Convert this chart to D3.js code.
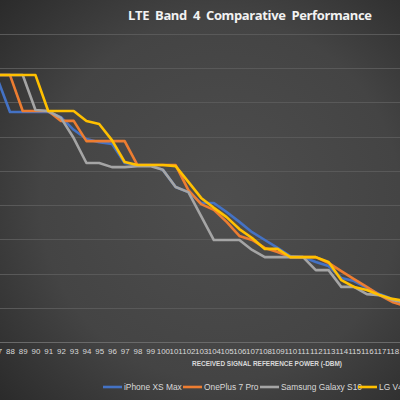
<!DOCTYPE html>
<html><head><meta charset="utf-8">
<script src="https://cdn.jsdelivr.net/npm/d3@7"></script>
<style>html,body{margin:0;padding:0;background:#3a3a3a;}svg{display:block;}</style>
</head><body>
<script>
const categories = ["87","88","89","90","91","92","93","94","95","96","97","98","99","100","101","102","103","104","105","106","107","108","109","110","111","112","113","114","115","116","117","118","119"];
const iphone  = [77.1,67.2,67.2,67.2,67.2,65.7,62.0,59.3,58.4,57.9,52.3,51.7,51.7,50.3,45.3,43.8,40.6,40.6,38.0,35.1,32.1,29.8,27.5,25.1,24.8,23.4,22.2,18.7,17.8,15.8,14.0,12.6,11.5];
const oneplus = [78.0,78.0,67.5,67.5,67.5,64.6,64.6,58.7,58.7,58.7,58.7,51.7,51.7,51.7,51.7,44.4,40.3,38.6,35.1,31.0,29.8,27.5,26.3,24.8,24.8,24.8,23.1,20.7,18.4,16.1,13.7,11.7,10.5];
const samsung = [78.0,78.0,78.0,67.8,67.5,65.5,59.6,52.3,52.3,51.1,51.1,51.4,51.4,50.3,45.3,43.8,36.8,29.8,29.8,29.8,26.9,24.8,24.8,24.8,24.8,21.0,21.0,16.1,16.1,14.0,13.7,12.3,11.5];
const lg      = [78.0,78.0,78.0,78.0,67.5,67.5,67.5,64.6,63.7,59.0,52.6,51.7,51.7,51.7,51.4,46.8,42.1,39.2,36.5,33.0,30.4,27.2,27.2,24.8,24.8,24.8,23.4,18.1,16.1,15.2,13.7,12.6,12.0];
const seriesNames = ["iPhone XS Max","OnePlus 7 Pro","Samsung Galaxy S10","LG V40"];
const seriesColors = ["#4472c4","#ed7d31","#a5a5a5","#ffc000"];
const yTicks = [0,10,20,30,40,50,60,70,80,90];
const title = "LTE  Band  4  Comparative  Performance";
const xTitle = "RECEIVED SIGNAL REFERENCE POWER (-DBM)";

const W = 400, H = 400;
const svg = d3.select("body").append("svg").attr("width", W).attr("height", H);
const defs = svg.append("defs");
const rg = defs.append("radialGradient").attr("id","bg").attr("cx","55%").attr("cy","50%").attr("r","75%");
rg.append("stop").attr("offset","0%").attr("stop-color","#4e4e4e");
rg.append("stop").attr("offset","60%").attr("stop-color","#444444");
rg.append("stop").attr("offset","100%").attr("stop-color","#2a2a2a");
svg.append("rect").attr("width",W).attr("height",H).attr("fill","url(#bg)");

const x = d3.scalePoint().domain(categories).range([-2.75, 405]);
const y = d3.scaleLinear().domain([0, 90]).range([342, 34]);

// gridlines
svg.append("g").selectAll("line").data(yTicks).join("line")
  .attr("x1", 0).attr("x2", W)
  .attr("y1", d => Math.round(y(d)) + 0.5).attr("y2", d => Math.round(y(d)) + 0.5)
  .attr("stroke", d => d === 0 ? "#6a6a6a" : "#595959").attr("stroke-width", 1);

// x axis
const xAxis = d3.axisBottom(x).tickSize(0).tickPadding(6);
const gx = svg.append("g").attr("transform", `translate(0,${y(0)})`).call(xAxis);
gx.select(".domain").remove();
gx.selectAll("text").attr("fill", "#d9d9d9").style("font-family", "'Liberation Sans', Arial, sans-serif").style("font-size", "7.9px");

// lines
const allSeries = [iphone, oneplus, samsung, lg];
const line = d3.line().x((d, i) => x(categories[i])).y(d => y(d));
svg.append("g").selectAll("path").data(allSeries).join("path")
  .attr("d", d => line(d))
  .attr("fill", "none")
  .attr("stroke", (d, i) => seriesColors[i])
  .attr("stroke-width", 2.6)
  .attr("stroke-linejoin", "round");

// title
svg.append("text").attr("x", 128).attr("y", 20)
  .attr("textLength", 244).attr("lengthAdjust", "spacing")
  .style("white-space", "pre")
  .attr("fill", "#f2f2f2").style("font-family", "'Open Sans', sans-serif")
  .style("font-size", "13px").style("font-weight", "bold").text(title);

// axis title
svg.append("text").attr("x", 192).attr("y", 366)
  .attr("textLength", 150).attr("lengthAdjust", "spacingAndGlyphs")
  .attr("fill", "#d9d9d9").style("font-family", "'Liberation Sans', Arial, sans-serif")
  .style("font-size", "8px").style("font-weight", "bold").text(xTitle);

// legend
const legendX = [103, 183, 260, 358];
const lgG = svg.append("g").selectAll("g").data(seriesNames).join("g")
  .attr("transform", (d, i) => `translate(${legendX[i]},387)`);
lgG.append("line").attr("x1", 0).attr("x2", 19).attr("y1", 0).attr("y2", 0)
  .attr("stroke", (d, i) => seriesColors[i]).attr("stroke-width", 2.6);
lgG.append("text").attr("x", 21).attr("y", 3)
  .attr("fill", "#d9d9d9").style("font-family", "'Liberation Sans', Arial, sans-serif")
  .style("font-size", "8.4px").text(d => d);
</script>
</body></html>
